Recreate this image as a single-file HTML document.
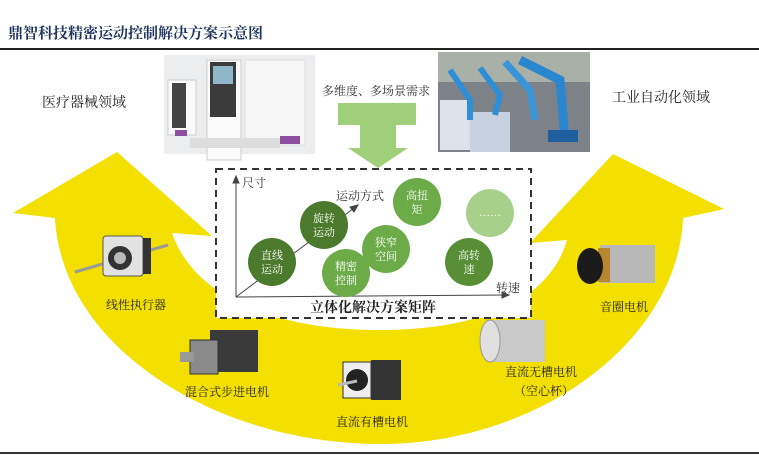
<!DOCTYPE html>
<html><head><meta charset="utf-8"><style>
html,body{margin:0;padding:0;background:#fff;}
svg{display:block;}
text{font-family:"Liberation Serif","Noto Serif CJK SC",serif;}
</style></head><body>
<svg width="759" height="474" viewBox="0 0 759 474" xmlns="http://www.w3.org/2000/svg">
<text x="8" y="38" font-size="15" font-weight="bold" fill="#1f3560">鼎智科技精密运动控制解决方案示意图</text>
<rect x="0" y="48" width="759" height="2" fill="#222"/>
<rect x="0" y="452" width="759" height="2" fill="#333"/>

<!-- yellow arc arrow -->
<path d="M55,218 L13,213 L117,152 L212,236 L172,233 C195,300 280,330 380,330 C480,330 550,300 567,240 L530,243 L613,154 L724,209 L683,218 C678,340 540,444 380,444 C220,444 62,350 55,218 Z" fill="#f3df00"/>

<!-- photos -->
<rect x="164" y="55" width="151" height="99" fill="#ecedee"/>
<rect x="168" y="80" width="28" height="55" fill="#fafafa" stroke="#ccc"/>
<rect x="172" y="83" width="14" height="45" fill="#444"/>
<rect x="207" y="60" width="34" height="100" fill="#fbfbfb" stroke="#ccc"/>
<rect x="210" y="62" width="26" height="55" fill="#3b3b3b"/>
<rect x="213" y="66" width="20" height="18" fill="#8fb6c9"/>
<rect x="245" y="60" width="60" height="85" fill="#f6f6f6" stroke="#ddd"/>
<rect x="190" y="138" width="90" height="10" fill="#ddd"/>
<rect x="280" y="136" width="20" height="8" fill="#8d4fa0"/>
<rect x="175" y="130" width="12" height="6" fill="#8d4fa0"/>

<rect x="438" y="52" width="152" height="100" fill="#7c8288"/>
<rect x="438" y="52" width="152" height="30" fill="#a9b0a8"/>
<rect x="440" y="100" width="30" height="50" fill="#dde2ea"/>
<rect x="470" y="112" width="40" height="40" fill="#c7d1e0"/>
<path d="M450,70 L470,100 L470,120" stroke="#2f8fd6" stroke-width="6" fill="none"/>
<path d="M480,68 L500,95 L495,115" stroke="#2f8fd6" stroke-width="6" fill="none"/>
<path d="M520,60 L560,80 L565,140" stroke="#2a86cf" stroke-width="9" fill="none"/>
<path d="M505,62 L530,90 L535,120" stroke="#3a95d8" stroke-width="7" fill="none"/>
<rect x="548" y="130" width="30" height="12" fill="#1f5fa0"/>

<text x="42" y="107" font-size="14" fill="#222">医疗器械领域</text>
<text x="612" y="102" font-size="14" fill="#222">工业自动化领域</text>
<text x="322" y="95" font-size="12" fill="#333">多维度、多场景需求</text>

<!-- green T arrow -->
<path d="M338,103 H416 V125 H396 V148 H408 L378,168 L348,148 H360 V125 H338 Z" fill="#9fcf78"/>

<!-- dashed box -->
<rect x="216" y="169" width="315" height="149" fill="#fff" stroke="#333" stroke-width="2" stroke-dasharray="7,5"/>
<g stroke="#444" stroke-width="1" fill="#444">
<line x1="236" y1="297" x2="236" y2="180"/><path d="M236,176 L233,183 L239,183 Z"/>
<line x1="236" y1="297" x2="505" y2="295"/><path d="M509,295 L502,292 L502,298 Z"/>
<line x1="236" y1="297" x2="354" y2="208"/><path d="M358,205 L350,207 L354,212 Z"/>
</g>
<text x="242" y="187" font-size="12" fill="#333">尺寸</text>
<text x="336" y="200" font-size="12" fill="#333">运动方式</text>
<text x="496" y="292" font-size="12" fill="#333">转速</text>
<g font-size="11" fill="#fff" text-anchor="middle">
<circle cx="272" cy="262" r="24" fill="#4b7a2c"/><text x="272" y="259">直线</text><text x="272" y="273">运动</text>
<circle cx="324" cy="225" r="24" fill="#4b7a2c"/><text x="324" y="222">旋转</text><text x="324" y="236">运动</text>
<circle cx="346" cy="273" r="24" fill="#6cab48"/><text x="346" y="270">精密</text><text x="346" y="284">控制</text>
<circle cx="386" cy="249" r="24" fill="#6cab48"/><text x="386" y="246">狭窄</text><text x="386" y="260">空间</text>
<circle cx="417" cy="202" r="24" fill="#6cab48"/><text x="417" y="199">高扭</text><text x="417" y="213">矩</text>
<circle cx="490" cy="213" r="24" fill="#a7d08b"/><text x="490" y="216">……</text>
<circle cx="469" cy="262" r="24" fill="#588f36"/><text x="469" y="259">高转</text><text x="469" y="273">速</text>
</g>
<text x="373" y="312" font-size="14" font-weight="bold" fill="#222" text-anchor="middle">立体化解决方案矩阵</text>

<!-- motors -->
<line x1="75" y1="272" x2="168" y2="245" stroke="#999" stroke-width="3"/>
<rect x="103" y="236" width="40" height="40" rx="3" fill="#e2e2e2" stroke="#555"/>
<circle cx="120" cy="258" r="12" fill="#333"/><circle cx="120" cy="258" r="6" fill="#bbb"/>
<rect x="143" y="238" width="8" height="36" fill="#333"/>
<text x="106" y="309" font-size="12" fill="#222">线性执行器</text>

<rect x="210" y="330" width="48" height="42" fill="#3a3a3a"/>
<rect x="190" y="340" width="28" height="34" fill="#8a8a8a" stroke="#333"/>
<rect x="180" y="352" width="14" height="10" fill="#999"/>
<text x="185" y="396" font-size="12" fill="#222">混合式步进电机</text>

<rect x="343" y="362" width="28" height="36" fill="#eee" stroke="#333"/>
<circle cx="357" cy="380" r="11" fill="#222"/>
<rect x="371" y="360" width="30" height="40" fill="#333"/>
<line x1="338" y1="385" x2="357" y2="381" stroke="#bbb" stroke-width="3"/>
<text x="336" y="426" font-size="12" fill="#222">直流有槽电机</text>

<path d="M490,320 L545,320 L545,362 L490,362 Z" fill="#c9c9c9"/>
<ellipse cx="490" cy="341" rx="10" ry="21" fill="#e0e0e0" stroke="#999"/>
<text x="505" y="376" font-size="12" fill="#222">直流无槽电机</text>
<text x="514" y="395" font-size="12" fill="#222">（空心杯）</text>

<rect x="600" y="245" width="55" height="38" fill="#b8b8b8"/>
<rect x="598" y="248" width="12" height="34" fill="#b7862e"/>
<ellipse cx="590" cy="266" rx="13" ry="18" fill="#1a1a1a"/>
<text x="600" y="311" font-size="12" fill="#222">音圈电机</text>
</svg>
</body></html>
